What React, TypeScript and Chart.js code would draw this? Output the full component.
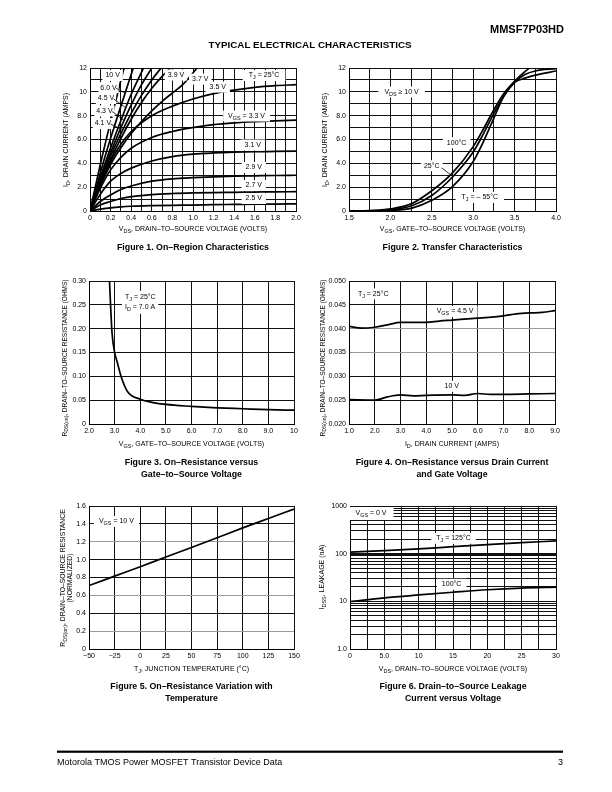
import React, { useEffect, useRef } from 'react';
import { Chart, registerables } from 'chart.js';

Chart.register(...registerables);

const FONT = '"Liberation Sans", Arial, Helvetica, sans-serif';

// ---------------- Figure 1: On-Region Characteristics ----------------
const fig1Vds = [0, 0.1, 0.2, 0.3, 0.4, 0.6, 0.8, 1.0, 1.2, 1.4, 1.6, 1.8, 2.0];
const fig1Id_2_5 = [0, 0.15, 0.27, 0.35, 0.4, 0.45, 0.48, 0.5, 0.53, 0.55, 0.57, 0.58, 0.6];
const fig1Id_2_7 = [0, 0.5, 0.8, 1.05, 1.2, 1.38, 1.47, 1.52, 1.55, 1.57, 1.59, 1.61, 1.62];
const fig1Id_2_9 = [0, 0.8, 1.35, 1.8, 2.1, 2.5, 2.7, 2.8, 2.87, 2.92, 2.95, 2.98, 3.0];
const fig1Id_3_1 = [0, 1.4, 2.5, 3.15, 3.6, 4.2, 4.57, 4.77, 4.87, 4.93, 4.97, 5.0, 5.03];
const fig1Id_3_3 = [0, 1.9, 3.45, 4.5, 5.27, 6.17, 6.67, 7.0, 7.25, 7.4, 7.5, 7.57, 7.62];
const fig1Id_3_5 = [0, 2.2, 4.15, 5.6, 6.67, 8.0, 8.8, 9.4, 9.85, 10.15, 10.38, 10.52, 10.6];
const fig1Vds_3_7 = [0, 0.1, 0.2, 0.3, 0.4, 0.5, 0.6, 0.7, 0.8, 0.9, 1.04];
const fig1Id_3_7 = [0, 2.1, 3.9, 5.3, 6.5, 7.5, 8.4, 9.2, 9.9, 10.6, 12];
const fig1Vds_3_9 = [0, 0.1, 0.2, 0.3, 0.4, 0.5, 0.6, 0.7, 0.78];
const fig1Id_3_9 = [0, 2.3, 4.3, 6.1, 7.7, 9.1, 10.3, 11.3, 12];
const fig1Vds_4_1 = [0, 0.1, 0.2, 0.3, 0.4, 0.5, 0.6, 0.69];
const fig1Id_4_1 = [0, 2.4, 4.6, 6.5, 8.2, 9.7, 11.0, 12];
const fig1Vds_4_3 = [0, 0.1, 0.2, 0.3, 0.4, 0.5, 0.6];
const fig1Id_4_3 = [0, 2.6, 4.9, 7.0, 8.9, 10.6, 12];
const fig1Vds_4_5 = [0, 0.1, 0.2, 0.3, 0.4, 0.52];
const fig1Id_4_5 = [0, 2.8, 5.3, 7.6, 9.8, 12];
const fig1Vds_6_0 = [0, 0.1, 0.2, 0.3, 0.42];
const fig1Id_6_0 = [0, 3.2, 6.1, 8.8, 12];
const fig1Vds_10 = [0, 0.1, 0.2, 0.33];
const fig1Id_10 = [0, 3.9, 7.5, 12];
const fig1XTickVals = [0, 0.2, 0.4, 0.6, 0.8, 1.0, 1.2, 1.4, 1.6, 1.8, 2.0];
const fig1XTickText = ['0', '0.2', '0.4', '0.6', '0.8', '1.0', '1.2', '1.4', '1.6', '1.8', '2.0'];
const idYTickVals = [0, 2, 4, 6, 8, 10, 12];
const idYTickText = ['0', '2.0', '4.0', '6.0', '8.0', '10', '12'];

// ---------------- Figure 2: Transfer Characteristics ----------------
const fig2Vgs = [1.5, 1.75, 2.0, 2.25, 2.5, 2.75, 3.0, 3.125, 3.25, 3.375, 3.5, 3.625, 3.75, 4.0];
const fig2Id100 = [0, 0.03, 0.18, 0.6, 1.7, 3.2, 5.4, 6.9, 8.5, 9.9, 10.8, 11.15, 11.4, 11.75];
const fig2Id25 = [0, 0.02, 0.1, 0.42, 1.3, 2.85, 4.95, 6.5, 8.2, 9.7, 10.8, 11.45, 11.75, 11.95];
const fig2VgsM55 = [1.5, 1.75, 2.0, 2.25, 2.5, 2.75, 3.0, 3.125, 3.25, 3.375, 3.5, 3.56, 3.625, 3.68];
const fig2IdM55 = [0, 0.01, 0.05, 0.22, 0.9, 2.05, 4.15, 5.85, 7.8, 9.7, 10.9, 11.3, 11.7, 12];
const fig2XTickVals = [1.5, 2.0, 2.5, 3.0, 3.5, 4.0];
const fig2XTickText = ['1.5', '2.0', '2.5', '3.0', '3.5', '4.0'];

// ---------------- Figure 3: On-Resistance vs Gate-to-Source Voltage ----------------
const fig3Vgs = [2.8, 2.85, 2.9, 3.0, 3.1, 3.25, 3.5, 4.0, 4.5, 5.0, 6.0, 7.0, 8.0, 9.0, 10];
const fig3Rds = [0.30, 0.24, 0.19, 0.15, 0.13, 0.10, 0.068, 0.052, 0.045, 0.041, 0.037, 0.034, 0.032, 0.030, 0.029];
const fig3XTickVals = [2, 3, 4, 5, 6, 7, 8, 9, 10];
const fig3XTickText = ['2.0', '3.0', '4.0', '5.0', '6.0', '7.0', '8.0', '9.0', '10'];
const fig3YTickVals = [0, 0.05, 0.1, 0.15, 0.2, 0.25, 0.3];
const fig3YTickText = ['0', '0.05', '0.10', '0.15', '0.20', '0.25', '0.30'];

// ---------------- Figure 4: On-Resistance vs Drain Current ----------------
const fig4Id45 = [1, 1.5, 2, 2.5, 3, 3.5, 4, 4.5, 5, 6, 7, 7.5, 8, 8.5, 9];
const fig4Rds45 = [0.0405, 0.0401, 0.0403, 0.0408, 0.0413, 0.0413, 0.0413, 0.0416, 0.0418, 0.0422, 0.0427, 0.0431, 0.0433, 0.0434, 0.0438];
const fig4Id10 = [1, 2, 2.5, 3, 3.5, 4, 5, 5.5, 6, 6.5, 7, 8, 9];
const fig4Rds10 = [0.0251, 0.025, 0.0257, 0.0261, 0.0259, 0.026, 0.0261, 0.026, 0.0264, 0.0262, 0.0262, 0.0263, 0.0264];
const fig4XTickVals = [1, 2, 3, 4, 5, 6, 7, 8, 9];
const fig4XTickText = ['1.0', '2.0', '3.0', '4.0', '5.0', '6.0', '7.0', '8.0', '9.0'];
const fig4YTickVals = [0.02, 0.025, 0.03, 0.035, 0.04, 0.045, 0.05];
const fig4YTickText = ['0.020', '0.025', '0.030', '0.035', '0.040', '0.045', '0.050'];

// ---------------- Figure 5: On-Resistance vs Temperature ----------------
const fig5Tj = [-50, -25, 0, 25, 50, 75, 100, 125, 150];
const fig5Rnorm = [0.71, 0.815, 0.92, 1.03, 1.135, 1.245, 1.355, 1.46, 1.565];
const fig5XTickVals = [-50, -25, 0, 25, 50, 75, 100, 125, 150];
const fig5XTickText = ['\u221250', '\u221225', '0', '25', '50', '75', '100', '125', '150'];
const fig5YTickVals = [0, 0.2, 0.4, 0.6, 0.8, 1.0, 1.2, 1.4, 1.6];
const fig5YTickText = ['0', '0.2', '0.4', '0.6', '0.8', '1.0', '1.2', '1.4', '1.6'];

// ---------------- Figure 6: Drain-to-Source Leakage ----------------
const fig6Vds = [0, 5, 10, 15, 20, 25, 30];
const fig6Idss125 = [108, 116, 126, 140, 155, 170, 185];
const fig6Idss100 = [9.8, 11.8, 13.6, 15.5, 17.5, 19.0, 19.8];
const fig6XTickVals = [0, 5, 10, 15, 20, 25, 30];
const fig6XTickText = ['0', '5.0', '10', '15', '20', '25', '30'];
const fig6YTickVals = [1, 10, 100, 1000];
const fig6YTickText = ['1.0', '10', '100', '1000'];

// ---------------- helpers ----------------
const pts = (xs: number[], ys: number[]) => xs.map((x, i) => ({ x, y: ys[i] }));
const grid = (a: number, b: number, step: number) => {
  const n = Math.round((b - a) / step);
  return Array.from({ length: n + 1 }, (_, i) => +(a + i * step).toFixed(6));
};
const logGrid = () => {
  const out: number[] = [];
  for (const d of [1, 10, 100]) for (let m = 1; m <= 9; m++) out.push(m * d);
  out.push(1000);
  return out;
};
const near = (a: number, b: number) => Math.abs(a - b) <= 1e-7 * Math.max(1, Math.abs(a));
const lookup = (vals: number[], texts: string[]) => (v: number) => {
  const i = vals.findIndex((u) => near(u, v));
  return i >= 0 ? texts[i] : '';
};

type Seg = { t: string; k: number };
function parseRich(s: string): Seg[] {
  const out: Seg[] = [];
  const re = /([_^])\{([^}]*)\}/g;
  let last = 0;
  let m: RegExpExecArray | null;
  while ((m = re.exec(s))) {
    if (m.index > last) out.push({ t: s.slice(last, m.index), k: 0 });
    out.push({ t: m[2], k: m[1] === '_' ? -1 : 1 });
    last = re.lastIndex;
  }
  if (last < s.length) out.push({ t: s.slice(last), k: 0 });
  return out;
}
const fontStr = (size: number, bold: boolean) => `${bold ? 'bold ' : ''}${size}px ${FONT}`;
function richWidth(ctx: CanvasRenderingContext2D, s: string, size: number, bold = false) {
  let w = 0;
  for (const sg of parseRich(s)) {
    ctx.font = fontStr(sg.k ? size * 0.78 : size, bold);
    w += ctx.measureText(sg.t).width;
  }
  return w;
}
function drawRich(ctx: CanvasRenderingContext2D, s: string, x: number, y: number, size: number, align: string, bold = false) {
  const w = richWidth(ctx, s, size, bold);
  let cx = align === 'center' ? x - w / 2 : align === 'right' ? x - w : x;
  ctx.textBaseline = 'middle';
  ctx.textAlign = 'left';
  ctx.fillStyle = '#000';
  for (const sg of parseRich(s)) {
    const sz = sg.k ? size * 0.78 : size;
    ctx.font = fontStr(sz, bold);
    const dy = sg.k === -1 ? size * 0.32 : sg.k === 1 ? -size * 0.35 : 0;
    ctx.fillText(sg.t, cx, y + dy);
    cx += ctx.measureText(sg.t).width;
  }
  return w;
}

interface Label { x: number; y: number; t: string; align?: string; padX?: number; padY?: number }
interface Spec {
  plot: [number, number, number, number];
  yLog?: boolean;
  xMin: number; xMax: number; yMin: number; yMax: number;
  xGrid: number[]; yGrid: number[];
  xLabel: (v: number) => string; yLabel: (v: number) => string;
  yGray?: number[]; yBold?: number[];
  series: { x: number; y: number }[][];
  labels: Label[];
  leaders: number[][];
  xTitle: string; xTitleY: number;
  yTitles: { t: string; x: number }[]; yTitleSize: number; yTitleCy: number;
  caption: string[]; captionY: number[];
  page?: boolean;
}

function makeDeco(spec: Spec) {
  return {
    id: 'deco',
    afterDatasetsDraw(chart: any) {
      const ctx: CanvasRenderingContext2D = chart.ctx;
      const xs = chart.scales.x, ys = chart.scales.y;
      ctx.save();
      for (const lb of spec.labels) {
        const px = xs.getPixelForValue(lb.x), py = ys.getPixelForValue(lb.y);
        const size = 7;
        const w = richWidth(ctx, lb.t, size);
        const padX = lb.padX ?? 4, padY = lb.padY ?? 2;
        const left = lb.align === 'left' ? px : px - w / 2;
        ctx.fillStyle = '#fff';
        ctx.fillRect(left - padX, py - size / 2 - padY, w + padX * 2, size + padY * 2);
        drawRich(ctx, lb.t, left, py, size, 'left');
      }
      ctx.strokeStyle = '#000';
      ctx.lineWidth = 0.8;
      for (const [x1, y1, x2, y2] of spec.leaders) {
        ctx.beginPath();
        ctx.moveTo(xs.getPixelForValue(x1), ys.getPixelForValue(y1));
        ctx.lineTo(xs.getPixelForValue(x2), ys.getPixelForValue(y2));
        ctx.stroke();
      }
      ctx.restore();
    },
    afterDraw(chart: any) {
      const ctx: CanvasRenderingContext2D = chart.ctx;
      const ca = chart.chartArea;
      const cx = (ca.left + ca.right) / 2;
      ctx.save();
      drawRich(ctx, spec.xTitle, cx, spec.xTitleY, 7, 'center');
      for (const yt of spec.yTitles) {
        ctx.save();
        ctx.translate(yt.x, spec.yTitleCy);
        ctx.rotate(-Math.PI / 2);
        drawRich(ctx, yt.t, 0, 0, spec.yTitleSize, 'center');
        ctx.restore();
      }
      spec.caption.forEach((c, i) => drawRich(ctx, c, cx, spec.captionY[i], 8.8, 'center', true));
      if (spec.page) {
        drawRich(ctx, 'MMSF7P03HD', 564, 30, 11, 'right', true);
        drawRich(ctx, 'TYPICAL ELECTRICAL CHARACTERISTICS', 310, 45, 9.8, 'center', true);
        ctx.fillStyle = '#000';
        ctx.fillRect(57, 750.6, 506, 2.2);
        drawRich(ctx, 'Motorola TMOS Power MOSFET Transistor Device Data', 57, 763, 9, 'left');
        drawRich(ctx, '3', 563, 763, 9, 'right');
      }
      ctx.restore();
    },
  };
}

function buildConfig(spec: Spec): any {
  const [L, T, R, B] = spec.plot;
  const tickFont = { family: FONT, size: 7 };
  return {
    type: 'line',
    data: {
      datasets: spec.series.map((s) => ({
        data: s,
        borderColor: '#000',
        borderWidth: 1.7,
        pointRadius: 0,
        pointHoverRadius: 0,
        fill: false,
        cubicInterpolationMode: 'monotone',
      })),
    },
    options: {
      responsive: false,
      animation: false,
      devicePixelRatio: 1,
      events: [],
      layout: { padding: { left: L - 30, top: T, right: 612 - R, bottom: 792 - B - 20 } },
      plugins: { legend: { display: false }, tooltip: { enabled: false } },
      scales: {
        x: {
          type: 'linear',
          bounds: 'data',
          min: spec.xMin,
          max: spec.xMax,
          afterBuildTicks: (sc: any) => { sc.ticks = spec.xGrid.map((v) => ({ value: v })); },
          afterFit: (sc: any) => { sc.height = 20; sc.paddingLeft = 0; sc.paddingRight = 0; },
          ticks: { autoSkip: false, maxRotation: 0, minRotation: 0, padding: 3, font: tickFont, color: '#000', callback: (v: number) => spec.xLabel(v) },
          grid: { color: '#111', lineWidth: 1, drawTicks: false },
          border: { color: '#000', width: 1 },
        },
        y: {
          type: spec.yLog ? 'logarithmic' : 'linear',
          bounds: 'data',
          min: spec.yMin,
          max: spec.yMax,
          afterBuildTicks: (sc: any) => { sc.ticks = spec.yGrid.map((v) => ({ value: v })); },
          afterFit: (sc: any) => { sc.width = 30; sc.paddingTop = 0; sc.paddingBottom = 0; },
          ticks: { autoSkip: false, padding: 3, font: tickFont, color: '#000', callback: (v: number) => spec.yLabel(v) },
          grid: {
            drawTicks: false,
            color: (c: any) => ((spec.yGray || []).some((g) => c.tick && near(g, c.tick.value)) ? '#9a9a9a' : '#111'),
            lineWidth: (c: any) => ((spec.yBold || []).some((g) => c.tick && near(g, c.tick.value)) ? 2 : 1),
          },
          border: { color: '#000', width: 1 },
        },
      },
    },
    plugins: [makeDeco(spec)],
  };
}

const specs: Spec[] = [
  {
    plot: [90, 68, 296, 211],
    xMin: 0, xMax: 2, yMin: 0, yMax: 12,
    xGrid: grid(0, 2, 0.1), yGrid: grid(0, 12, 1),
    xLabel: lookup(fig1XTickVals, fig1XTickText), yLabel: lookup(idYTickVals, idYTickText),
    series: [
      pts(fig1Vds, fig1Id_2_5), pts(fig1Vds, fig1Id_2_7), pts(fig1Vds, fig1Id_2_9),
      pts(fig1Vds, fig1Id_3_1), pts(fig1Vds, fig1Id_3_3), pts(fig1Vds, fig1Id_3_5),
      pts(fig1Vds_3_7, fig1Id_3_7), pts(fig1Vds_3_9, fig1Id_3_9), pts(fig1Vds_4_1, fig1Id_4_1),
      pts(fig1Vds_4_3, fig1Id_4_3), pts(fig1Vds_4_5, fig1Id_4_5), pts(fig1Vds_6_0, fig1Id_6_0),
      pts(fig1Vds_10, fig1Id_10),
    ],
    labels: [
      { x: 0.22, y: 11.37, t: '10 V', padX: 3 },
      { x: 0.18, y: 10.35, t: '6.0 V', padX: 2 },
      { x: 0.155, y: 9.44, t: '4.5 V', padX: 2 },
      { x: 0.14, y: 8.39, t: '4.3 V', padX: 2 },
      { x: 0.125, y: 7.34, t: '4.1 V', padX: 2 },
      { x: 0.835, y: 11.41, t: '3.9 V', padX: 3 },
      { x: 1.07, y: 11.07, t: '3.7 V', padX: 3 },
      { x: 1.24, y: 10.4, t: '3.5 V' },
      { x: 1.69, y: 11.37, t: 'T_{J} = 25°C', padX: 6 },
      { x: 1.52, y: 7.97, t: 'V_{GS} = 3.3 V', padX: 5 },
      { x: 1.58, y: 5.54, t: '3.1 V' },
      { x: 1.59, y: 3.65, t: '2.9 V' },
      { x: 1.59, y: 2.14, t: '2.7 V' },
      { x: 1.59, y: 1.05, t: '2.5 V' },
    ],
    leaders: [
      [0.255, 10.3, 0.34, 9.9],
      [0.23, 9.4, 0.35, 8.65],
      [0.215, 8.35, 0.33, 7.6],
      [0.2, 7.3, 0.32, 6.8],
    ],
    xTitle: 'V_{DS}, DRAIN\u2013TO\u2013SOURCE VOLTAGE (VOLTS)', xTitleY: 229,
    yTitles: [{ t: 'I_{D}, DRAIN CURRENT (AMPS)', x: 66 }], yTitleSize: 7, yTitleCy: 140,
    caption: ['Figure 1. On\u2013Region Characteristics'], captionY: [248],
    page: true,
  },
  {
    plot: [349, 68, 556, 211],
    xMin: 1.5, xMax: 4, yMin: 0, yMax: 12,
    xGrid: grid(1.5, 4, 0.25), yGrid: grid(0, 12, 1),
    xLabel: lookup(fig2XTickVals, fig2XTickText), yLabel: lookup(idYTickVals, idYTickText),
    series: [pts(fig2Vgs, fig2Id100), pts(fig2Vgs, fig2Id25), pts(fig2VgsM55, fig2IdM55)],
    labels: [
      { x: 2.135, y: 9.98, t: 'V_{DS} \u2265 10 V', padX: 6 },
      { x: 2.8, y: 5.73, t: '100°C', padX: 4 },
      { x: 2.5, y: 3.8, t: '25°C', padX: 3 },
      { x: 3.08, y: 1.14, t: 'T_{J} = \u2013 55°C', padX: 6 },
    ],
    leaders: [[2.62, 3.62, 2.76, 2.86]],
    xTitle: 'V_{GS}, GATE\u2013TO\u2013SOURCE VOLTAGE (VOLTS)', xTitleY: 229,
    yTitles: [{ t: 'I_{D}, DRAIN CURRENT (AMPS)', x: 325 }], yTitleSize: 7, yTitleCy: 140,
    caption: ['Figure 2. Transfer Characteristics'], captionY: [248],
  },
  {
    plot: [89, 281, 294, 424],
    xMin: 2, xMax: 10, yMin: 0, yMax: 0.3,
    xGrid: grid(2, 10, 1), yGrid: grid(0, 0.3, 0.05),
    xLabel: lookup(fig3XTickVals, fig3XTickText), yLabel: lookup(fig3YTickVals, fig3YTickText),
    series: [pts(fig3Vgs, fig3Rds)],
    labels: [
      { x: 3.405, y: 0.2658, t: 'T_{J} = 25°C', align: 'left', padX: 3, padY: 3 },
      { x: 3.405, y: 0.2448, t: 'I_{D} = 7.0 A', align: 'left', padX: 3, padY: 3 },
    ],
    leaders: [],
    xTitle: 'V_{GS}, GATE\u2013TO\u2013SOURCE VOLTAGE (VOLTS)', xTitleY: 444,
    yTitles: [{ t: 'R_{DS(on)}, DRAIN\u2013TO\u2013SOURCE RESISTANCE (OHMS)', x: 65 }], yTitleSize: 6.5, yTitleCy: 358,
    caption: ['Figure 3. On\u2013Resistance versus', 'Gate\u2013to\u2013Source Voltage'], captionY: [463, 474.5],
  },
  {
    plot: [349, 281, 555, 424],
    xMin: 1, xMax: 9, yMin: 0.02, yMax: 0.05,
    xGrid: grid(1, 9, 1), yGrid: grid(0.02, 0.05, 0.005),
    xLabel: lookup(fig4XTickVals, fig4XTickText), yLabel: lookup(fig4YTickVals, fig4YTickText),
    yGray: [0.035, 0.04],
    series: [pts(fig4Id45, fig4Rds45), pts(fig4Id10, fig4Rds10)],
    labels: [
      { x: 1.94, y: 0.0473, t: 'T_{J} = 25°C', padX: 4 },
      { x: 5.12, y: 0.0436, t: 'V_{GS} = 4.5 V', padX: 4 },
      { x: 4.99, y: 0.0279, t: '10 V', padX: 4 },
    ],
    leaders: [],
    xTitle: 'I_{D}, DRAIN CURRENT (AMPS)', xTitleY: 444,
    yTitles: [{ t: 'R_{DS(on)}, DRAIN\u2013TO\u2013SOURCE RESISTANCE (OHMS)', x: 323 }], yTitleSize: 6.5, yTitleCy: 358,
    caption: ['Figure 4. On\u2013Resistance versus Drain Current', 'and Gate Voltage'], captionY: [463, 474.5],
  },
  {
    plot: [89, 506, 294, 649],
    xMin: -50, xMax: 150, yMin: 0, yMax: 1.6,
    xGrid: grid(-50, 150, 25), yGrid: grid(0, 1.6, 0.2),
    xLabel: lookup(fig5XTickVals, fig5XTickText), yLabel: lookup(fig5YTickVals, fig5YTickText),
    yGray: [0.2, 0.6, 1.2],
    series: [pts(fig5Tj, fig5Rnorm)],
    labels: [{ x: -23.3, y: 1.427, t: 'V_{GS} = 10 V', padX: 5 }],
    leaders: [],
    xTitle: 'T_{J}, JUNCTION TEMPERATURE (°C)', xTitleY: 669,
    yTitles: [
      { t: 'R_{DS(on)}, DRAIN\u2013TO\u2013SOURCE RESISTANCE', x: 63 },
      { t: '(NORMALIZED)', x: 70.5 },
    ],
    yTitleSize: 6.8, yTitleCy: 578,
    caption: ['Figure 5. On\u2013Resistance Variation with', 'Temperature'], captionY: [687, 699],
  },
  {
    plot: [350, 506, 556, 649],
    yLog: true,
    xMin: 0, xMax: 30, yMin: 1, yMax: 1000,
    xGrid: grid(0, 30, 2.5), yGrid: logGrid(),
    xLabel: lookup(fig6XTickVals, fig6XTickText), yLabel: lookup(fig6YTickVals, fig6YTickText),
    yBold: [100],
    series: [pts(fig6Vds, fig6Idss125), pts(fig6Vds, fig6Idss100)],
    labels: [
      { x: 3.06, y: 695, t: 'V_{GS} = 0 V', padX: 7, padY: 3 },
      { x: 15.07, y: 210, t: 'T_{J} = 125°C', padX: 5 },
      { x: 14.8, y: 22.8, t: '100°C', padX: 5 },
    ],
    leaders: [],
    xTitle: 'V_{DS}, DRAIN\u2013TO\u2013SOURCE VOLTAGE (VOLTS)', xTitleY: 669,
    yTitles: [{ t: 'I_{DSS}, LEAKAGE (nA)', x: 322 }], yTitleSize: 7, yTitleCy: 577,
    caption: ['Figure 6. Drain\u2013to\u2013Source Leakage', 'Current versus Voltage'], captionY: [687, 699],
  },
];

function ChartCanvas({ spec }: { spec: Spec }) {
  const ref = useRef<HTMLCanvasElement>(null);
  useEffect(() => {
    const chart = new Chart(ref.current as HTMLCanvasElement, buildConfig(spec));
    return () => chart.destroy();
  }, [spec]);
  return (
    <canvas
      ref={ref}
      width={612}
      height={792}
      style={{ position: 'absolute', left: 0, top: 0, width: 612, height: 792 }}
    />
  );
}

export default function App() {
  return (
    <div style={{ position: 'absolute', left: 0, top: 0, width: 612, height: 792, background: '#fff', overflow: 'hidden' }}>
      {specs.map((s, i) => (
        <ChartCanvas key={i} spec={s} />
      ))}
    </div>
  );
}
